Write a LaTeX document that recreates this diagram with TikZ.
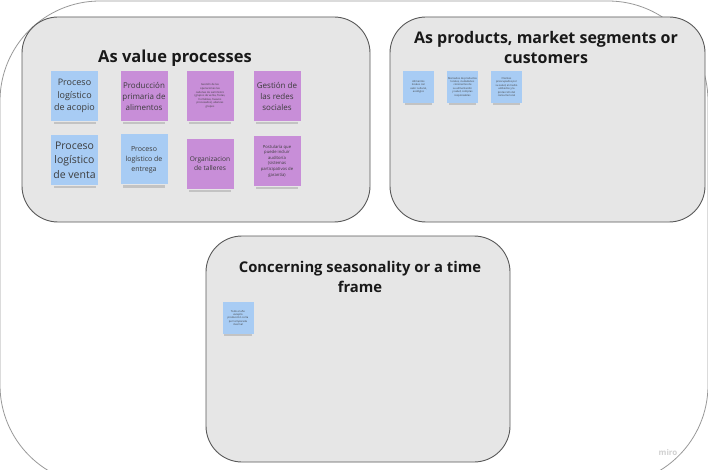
\documentclass[tikz,border=0pt]{standalone}
\usepackage{fontspec}
\setmainfont{Open Sans}
\definecolor{panelgray}{HTML}{E6E6E6}
\definecolor{noteblue}{HTML}{A8CCF4}
\definecolor{notepurple}{HTML}{C88ED8}
\definecolor{notetext}{HTML}{3C3C3C}
\tikzset{
  panel/.style={draw=black!65, line width=0.9pt, fill=panelgray, rounded corners=36pt},
  ptitle/.style={font=\bfseries\fontsize{16}{20}\selectfont, align=center, text=black!90},
  note/.style={inner sep=0.5pt, align=center, text=notetext},
  bignote/.style={note, minimum width=47pt, minimum height=50pt},
  smallnote/.style={note, minimum width=31pt, minimum height=32pt, font=\fontsize{2.6}{3.4}\selectfont},
  bluenote/.style={fill=noteblue},
  purpnote/.style={fill=notepurple},
  shade/.style={fill=black!55, opacity=0.3},
}
\newcommand{\notewithshadow}[5]{% name, x, y, style, text
  \fill[shade] (#2-21,#3+26) rectangle (#2+21,#3+28.5);
  \node[#4] (#1) at (#2,#3) {#5};
}
\begin{document}
\begin{tikzpicture}[x=1pt,y=-1pt]
\useasboundingbox (0,0) rectangle (708,470);
\begin{scope}
\clip (0,0) rectangle (708,470);
\fill[white] (0,0) rectangle (708,470);
\node[draw=black!40, line width=0.8pt, rounded corners=100pt, minimum width=708pt, minimum height=484pt, inner sep=0pt] (outer) at (354,243) {};

% panels
\node[panel, minimum width=348pt, minimum height=205pt, inner sep=0pt] (p1) at (196,119.5) {};
\node[panel, minimum width=315pt, minimum height=205pt, inner sep=0pt] (p2) at (547.5,119.5) {};
\node[panel, minimum width=304pt, minimum height=226pt, inner sep=0pt] (p3) at (358,349) {};

\node[ptitle, font=\bfseries\fontsize{16.5}{20}\selectfont] (t1) at (175,58) {As value processes};
\node[ptitle] (t2) at (546,48) {As products, market segments or\\customers};
\node[ptitle, font=\bfseries\fontsize{14.8}{20}\selectfont] (t3) at (360,277) {Concerning seasonality or a time\\frame};

% value process notes
\notewithshadow{n11}{74.5}{96}{bignote,bluenote,font=\fontsize{9}{12.5}\selectfont}{Proceso\\logístico\\de acopio}
\notewithshadow{n12}{144}{96}{bignote,purpnote,font=\fontsize{8}{11}\selectfont}{Producción\\primaria de\\alimentos}
\notewithshadow{n13}{210}{96}{bignote,purpnote,font=\fontsize{2.7}{3.6}\selectfont}{Gestión de las\\operaciones las\\cadenas de suministro\\(grupos de venta, frutas,\\hortalizas, huevos\\procesados), alianzas\\grupos}
\notewithshadow{n14}{277}{96}{bignote,purpnote,font=\fontsize{8}{11}\selectfont}{Gestión de\\las redes\\sociales}
\notewithshadow{n21}{74.5}{160}{bignote,bluenote,font=\fontsize{10.5}{14.5}\selectfont}{Proceso\\logístico\\de venta}
\notewithshadow{n22}{144}{159.5}{bignote,bluenote,font=\fontsize{7}{10}\selectfont}{Proceso\\logístico de\\entrega}
\notewithshadow{n23}{210}{164}{bignote,purpnote,font=\fontsize{6.6}{9}\selectfont}{Organizacion\\de talleres}
\notewithshadow{n24}{277}{161}{bignote,purpnote,font=\fontsize{4.2}{5.6}\selectfont}{Postularía que\\puede incluir\\auditoría\\(sistemas\\participativos de\\garantía)}

% product notes
\fill[shade] (405,103) rectangle (432,105);
\node[smallnote,bluenote] (m1) at (418.5,87) {Alimentos\\locales con\\valor cultural,\\ecológico};
\fill[shade] (449,103) rectangle (476,105);
\node[smallnote,bluenote] (m2) at (462.5,87) {Mercados de productos\\locales, ciudadanos\\conscientes de\\su alimentación\\y salud, compras\\responsables};
\fill[shade] (493,103) rectangle (520,105);
\node[smallnote,bluenote] (m3) at (506.5,87) {Clientes\\preocupados por\\su salud, el medio\\ambiente y la\\protección del\\consumo local};

% season note
\fill[shade] (224,334) rectangle (252,336);
\node[smallnote,bluenote] (s1) at (238,318) {Todo el año\\excepto\\producción corta\\por temporada\\invernal};

\node[text=black!18, font=\bfseries\fontsize{8}{8}\selectfont] (miro) at (668,452) {miro};
\end{scope}
\end{tikzpicture}
\end{document}
